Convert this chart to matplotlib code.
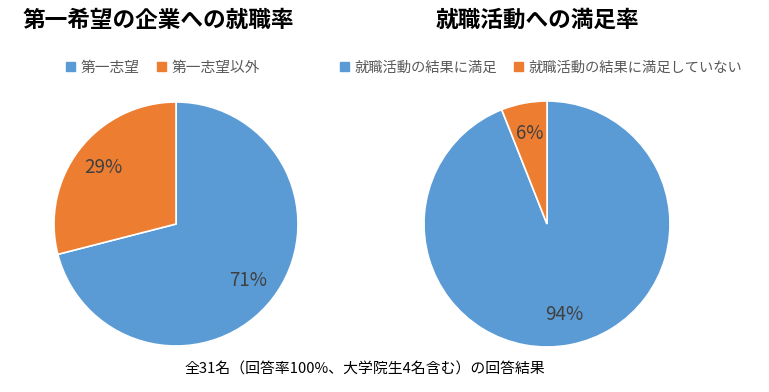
import matplotlib.pyplot as plt

plt.rcParams['font.family'] = ['Noto Sans CJK JP', 'DejaVu Sans']

# data
left_title = "第一希望の企業への就職率"
left_labels = ["第一志望", "第一志望以外"]
left_values = [71, 29]

right_title = "就職活動への満足率"
right_labels = ["就職活動の結果に満足", "就職活動の結果に満足していない"]
right_values = [94, 6]

footer = "全31名（回答率100%、大学院生4名含む）の回答結果"

colors = ["#5B9BD5", "#ED7D31"]
W, H = 769, 392

fig = plt.figure(figsize=(W / 100, H / 100), dpi=100)


def draw_pie(cx, cy, r, values, labels, title, title_x, legend_x, legend_fs):
    ax = fig.add_axes([(cx - r) / W, (H - cy - r) / H, 2 * r / W, 2 * r / H])
    ax.pie(values, colors=colors, startangle=90, counterclock=False,
           autopct=lambda p: f"{p:.0f}%", pctdistance=0.75,
           wedgeprops=dict(edgecolor="white", linewidth=1.2),
           textprops=dict(fontsize=13.5, color="#404040"))
    ax.set_xlim(-1, 1)
    ax.set_ylim(-1, 1)
    fig.text(title_x / W, 1 - 20 / H, title, fontsize=16.3, fontweight="bold",
             ha="center", va="center")
    handles = [plt.Rectangle((0, 0), 1, 1, color=c) for c in colors]
    fig.legend(handles, labels, loc="center", bbox_to_anchor=(legend_x / W, 1 - 68 / H),
               ncol=2, frameon=False, fontsize=legend_fs, handlelength=0.6, handleheight=0.6,
               handletextpad=0.4, columnspacing=1.2, labelcolor="#595959")


draw_pie(176, 224, 122, left_values, left_labels, left_title, 158, 163, 10.6)
draw_pie(547, 224, 123, right_values, right_labels, right_title, 537, 541, 10.3)

fig.text(365 / W, 1 - 370 / H, footer, fontsize=10.7, ha="center", va="center")

fig.savefig("out.png", dpi=100)
